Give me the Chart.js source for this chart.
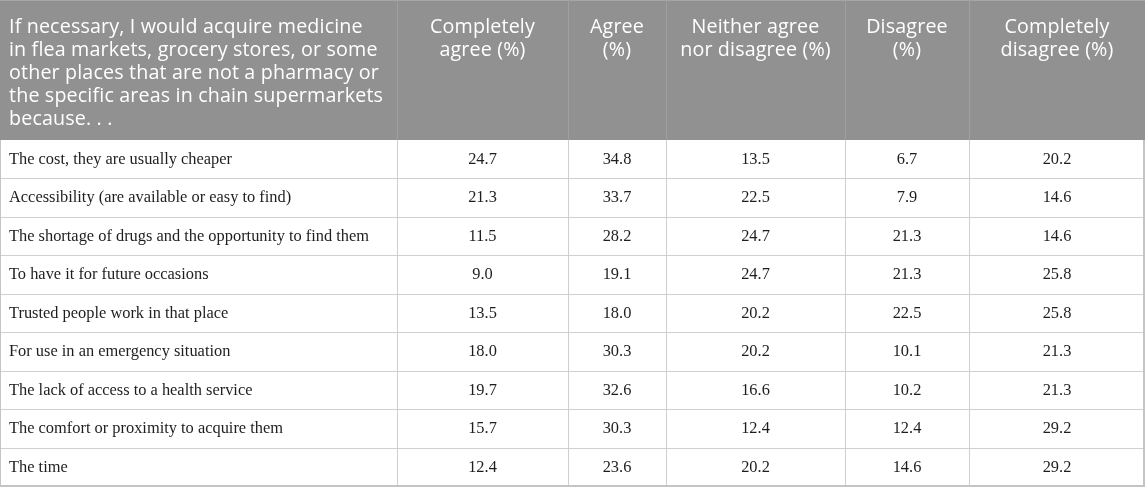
<!DOCTYPE html>
<html>
<head>
<meta charset="utf-8">
<script src="https://cdn.jsdelivr.net/npm/chart.js@4"></script>
<style>
  html, body { margin: 0; padding: 0; background: #ffffff; }
  #wrap { width: 1145px; height: 487px; }
</style>
</head>
<body>
<div id="wrap"><canvas id="c" width="1145" height="487"></canvas></div>
<script>
// ---- data ----
const stubHeader = ["If necessary, I would acquire medicine", "in flea markets, grocery stores, or some", "other places that are not a pharmacy or", "the specific areas in chain supermarkets", "because. . ."];
const columnHeaders = [
  ["Completely", "agree (%)"],
  ["Agree", "(%)"],
  ["Neither agree", "nor disagree (%)"],
  ["Disagree", "(%)"],
  ["Completely", "disagree (%)"]
];
const reasons = [
  "The cost, they are usually cheaper",
  "Accessibility (are available or easy to find)",
  "The shortage of drugs and the opportunity to find them",
  "To have it for future occasions",
  "Trusted people work in that place",
  "For use in an emergency situation",
  "The lack of access to a health service",
  "The comfort or proximity to acquire them",
  "The time"
];
const completelyAgree    = [24.7, 21.3, 11.5, 9.0, 13.5, 18.0, 19.7, 15.7, 12.4];
const agree              = [34.8, 33.7, 28.2, 19.1, 18.0, 30.3, 32.6, 30.3, 23.6];
const neitherAgree       = [13.5, 22.5, 24.7, 24.7, 20.2, 20.2, 16.6, 12.4, 20.2];
const disagree           = [6.7, 7.9, 21.3, 21.3, 22.5, 10.1, 10.2, 12.4, 14.6];
const completelyDisagree = [20.2, 14.6, 14.6, 25.8, 25.8, 21.3, 21.3, 29.2, 29.2];

// ---- layout (column edges in x-scale units) ----
const colEdges = [0, 397, 568, 666, 845, 969, 1145];
const HEADER_H = 140;

const valueCols = [completelyAgree, agree, neitherAgree, disagree, completelyDisagree];

const tablePlugin = {
  id: 'tablePlugin',
  afterDraw(chart) {
    const ctx = chart.ctx;
    const xs = chart.scales.x;
    const ys = chart.scales.y;
    const xp = v => Math.round(xs.getPixelForValue(v));
    const left = xp(colEdges[0]);
    const right = xp(colEdges[colEdges.length - 1]);
    const top = chart.chartArea.top;
    const n = reasons.length;
    const half = (ys.getPixelForValue(1) - ys.getPixelForValue(0)) / 2;
    const rowTop = i => ys.getPixelForValue(i) - half;
    const bottom = Math.round(ys.getPixelForValue(n - 1) + half);

    ctx.save();
    // header background
    ctx.fillStyle = '#919191';
    ctx.fillRect(left, 0, right - left, top);
    // header top border
    ctx.fillStyle = '#a6a6a6';
    ctx.fillRect(left, 0, right - left, 1);
    // header separators
    ctx.fillStyle = '#a0a0a0';
    for (let k = 1; k < colEdges.length - 1; k++) {
      ctx.fillRect(xp(colEdges[k]), 0, 1, top);
    }
    // body grid lines
    ctx.fillStyle = '#cfcfcf';
    for (let i = 1; i < n; i++) {
      ctx.fillRect(left, Math.round(rowTop(i)), right - left, 1);
    }
    for (let k = 1; k < colEdges.length - 1; k++) {
      ctx.fillRect(xp(colEdges[k]), top, 1, bottom - top);
    }
    // outer borders
    ctx.fillStyle = '#c4c4c4';
    ctx.fillRect(left, top, 1, bottom - top);
    ctx.fillRect(right - 2, top, 2, bottom - top);
    ctx.fillRect(left, bottom - 1, right - left, 2);

    // header text
    ctx.fillStyle = '#ffffff';
    ctx.font = '19.7px "Open Sans", "Noto Sans", sans-serif';
    try { ctx.letterSpacing = '0.15px'; } catch (e) {}
    ctx.textBaseline = 'alphabetic';
    ctx.textAlign = 'left';
    const lh = 23;
    const base0 = 32.5;
    stubHeader.forEach((t, j) => ctx.fillText(t, left + 9, base0 + j * lh));
    ctx.textAlign = 'center';
    columnHeaders.forEach((lines, k) => {
      const cx = (xp(colEdges[k + 1]) + xp(colEdges[k + 2])) / 2;
      lines.forEach((t, j) => ctx.fillText(t, cx, base0 + j * lh));
    });
    try { ctx.letterSpacing = '0px'; } catch (e) {}

    // body text
    ctx.fillStyle = '#1e1e1e';
    ctx.font = '16.4px "Liberation Serif", "DejaVu Serif", serif';
    ctx.textBaseline = 'middle';
    reasons.forEach((r, i) => {
      const cy = ys.getPixelForValue(i) + 0.5;
      ctx.textAlign = 'left';
      ctx.fillText(r, left + 9, cy);
      ctx.textAlign = 'center';
      valueCols.forEach((col, k) => {
        const cx = (xp(colEdges[k + 1]) + xp(colEdges[k + 2])) / 2;
        ctx.fillText(col[i].toFixed(1), cx, cy);
      });
    });
    ctx.restore();
  }
};

new Chart(document.getElementById('c'), {
  type: 'bar',
  data: {
    labels: reasons,
    datasets: [{ label: 'table', data: [], backgroundColor: 'rgba(0,0,0,0)' }]
  },
  options: {
    indexAxis: 'y',
    responsive: false,
    animation: false,
    devicePixelRatio: 1,
    layout: { padding: { top: HEADER_H, left: 0, right: 0, bottom: 1 } },
    plugins: { legend: { display: false }, tooltip: { enabled: false } },
    scales: {
      x: { type: 'linear', min: colEdges[0], max: colEdges[colEdges.length - 1], display: false },
      y: { type: 'category', labels: reasons, offset: true, display: false }
    }
  },
  plugins: [tablePlugin]
});
</script>
</body>
</html>
